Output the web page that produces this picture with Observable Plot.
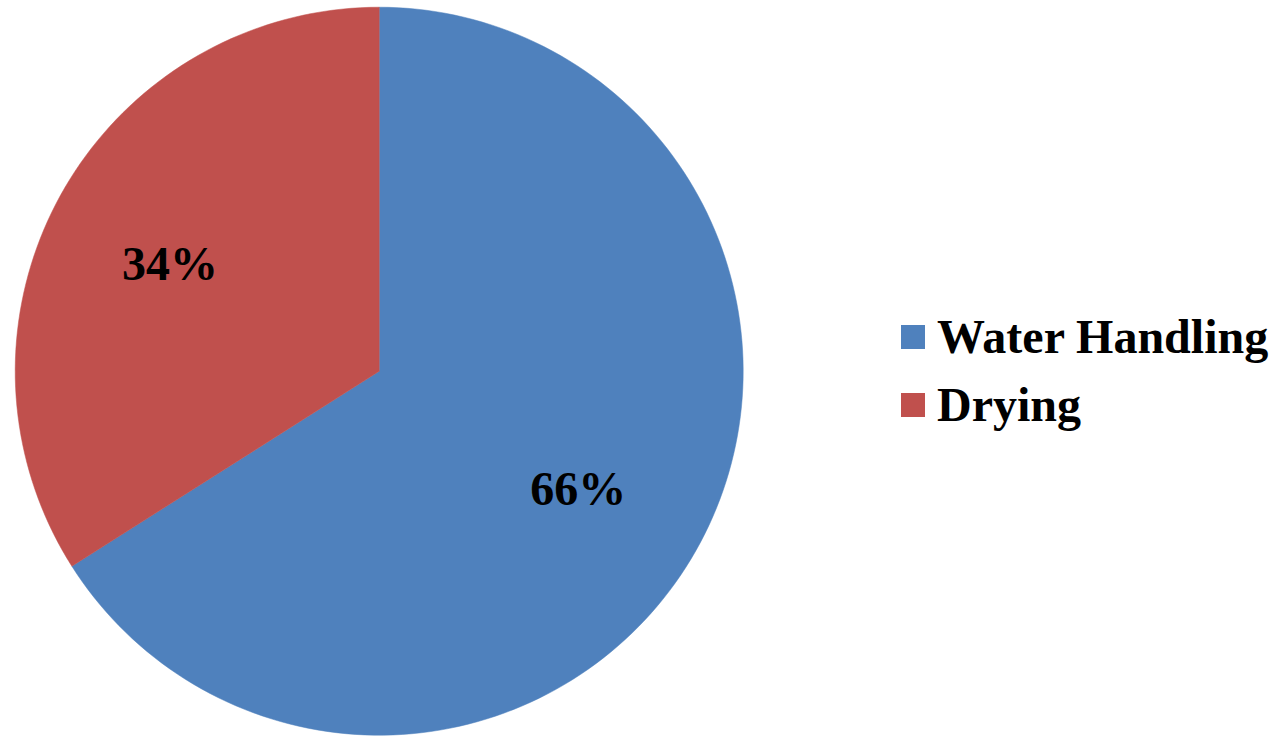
<!DOCTYPE html>
<html>
<head>
<meta charset="utf-8">
<script src="https://cdn.jsdelivr.net/npm/d3@7"></script>
<script src="https://cdn.jsdelivr.net/npm/@observablehq/plot@0.6"></script>
<style>
  html, body { margin: 0; padding: 0; background: #fff; }
  #chart { position: relative; width: 1282px; height: 738px; }
</style>
</head>
<body>
<div id="chart"></div>
<script>
const categories = ["Water Handling", "Drying"];
const values = [66, 34];
const labels = ["66%", "34%"];
const colors = ["#4F81BD", "#C0504D"];

const pie = d3.pie().sort(null).value(d => d.value)(
  categories.map((c, i) => ({category: c, value: values[i], label: labels[i]}))
);

// Outline of each slice in unit coordinates (angles measured clockwise from 12 o'clock)
const outline = [];
const STEPS = 240;
for (const s of pie) {
  const c = s.data.category;
  outline.push({category: c, x: 0, y: 0});
  const n = Math.max(2, Math.ceil(STEPS * (s.endAngle - s.startAngle) / (2 * Math.PI)));
  for (let k = 0; k <= n; k++) {
    const a = s.startAngle + (s.endAngle - s.startAngle) * k / n;
    outline.push({category: c, x: Math.sin(a), y: Math.cos(a)});
  }
  outline.push({category: c, x: 0, y: 0});
}
const LABEL_R = 0.64;
const labelPts = pie.map(s => {
  const a = (s.startAngle + s.endAngle) / 2;
  return {label: s.data.label, x: LABEL_R * Math.sin(a), y: LABEL_R * Math.cos(a)};
});

const plot = Plot.plot({
  width: 1282,
  height: 738,
  marginLeft: 14.7,
  marginRight: 539.3,
  marginTop: 6.7,
  marginBottom: 3.3,
  x: {domain: [-1, 1], axis: null},
  y: {domain: [-1, 1], axis: null},
  color: {domain: categories, range: colors},
  style: {background: "#fff", overflow: "visible"},
  marks: [
    Plot.line(outline, {x: "x", y: "y", z: "category", fill: "category", stroke: "category", strokeWidth: 0.5, curve: "linear"}),
    Plot.text(labelPts, {x: "x", y: "y", text: "label", fontSize: 48, fontWeight: "bold", dx: -5, dy: 6,
      fontFamily: "'Liberation Serif', 'Times New Roman', serif", fill: "#000", textAnchor: "middle", lineAnchor: "middle"})
  ]
});

// Legend (colours taken from the plot's colour scale)
const colorScale = plot.scale("color");
const svg = d3.select(plot);
const legendBaselines = [353, 421];
categories.forEach((c, i) => {
  const g = svg.append("g");
  g.append("rect").attr("x", 901).attr("y", legendBaselines[i] - 28).attr("width", 24).attr("height", 24)
    .attr("fill", colorScale.apply(c));
  g.append("text").attr("x", 937).attr("y", legendBaselines[i])
    .attr("text-anchor", "start")
    .attr("font-family", "'Liberation Serif', 'Times New Roman', serif")
    .attr("font-weight", "bold").attr("font-size", 48).attr("fill", "#000")
    .text(c);
});

document.getElementById("chart").appendChild(plot);
</script>
</body>
</html>
